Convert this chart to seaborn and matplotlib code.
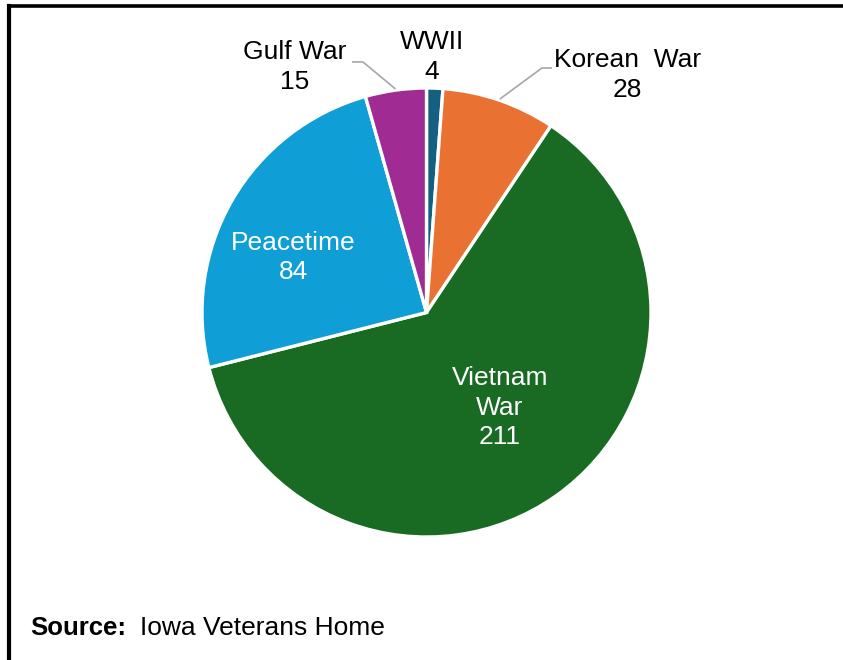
import matplotlib
matplotlib.use("Agg")
import matplotlib.pyplot as plt
from matplotlib.lines import Line2D
import numpy as np
import seaborn as sns

# Residents by era of service
eras = ["WWII", "Korean  War", "Vietnam\nWar", "Peacetime", "Gulf War"]
residents = [4, 28, 211, 84, 15]
colors = ["#156082", "#E97132", "#196B24", "#0F9ED5", "#A02B93"]

sns.set_theme(style="white")
plt.rcParams["font.family"] = ["Liberation Sans", "DejaVu Sans"]

W, H = 843, 660
fig = plt.figure(figsize=(W / 100, H / 100), dpi=100)
fig.patch.set_facecolor("white")

cx, cy, r = 426.5, 312.5, 224.5
ax = fig.add_axes([(cx - r) / W, (H - cy - r) / H, 2 * r / W, 2 * r / H])

wedges, _ = ax.pie(
    residents, colors=colors, startangle=90, counterclock=False,
    radius=1.0, wedgeprops=dict(edgecolor="white", linewidth=2.4),
)
ax.set_xlim(-1, 1)
ax.set_ylim(-1, 1)
ax.axis("off")

fs = 19
ls = 1.28
# label placement: (kind, radius/angle offset or xy, leader elbow points)
placement = {
    "WWII": ("out", (0.024, 1.138), None),
    "Korean  War": ("out", (0.895, 1.058), ((0.514, 1.089), (0.559, 1.089))),
    "Vietnam\nWar": ("in", (0.536, 2.4), None),
    "Peacetime": ("in", (0.64, 7.6), None),
    "Gulf War": ("out", (-0.586, 1.094), ((-0.283, 1.116), (-0.332, 1.116))),
}

for w, name, val in zip(wedges, eras, residents):
    mid = np.deg2rad((w.theta1 + w.theta2) / 2)
    kind, pos, leader = placement[name]
    label = f"{name}\n{val}"
    if kind == "in":
        rad, dang = pos
        ang = mid + np.deg2rad(dang)
        ax.text(rad * np.cos(ang), rad * np.sin(ang), label, ha="center",
                va="center", color="white", fontsize=fs, linespacing=ls)
    else:
        ax.text(pos[0], pos[1], label, ha="center", va="center",
                color="black", fontsize=fs, linespacing=ls, clip_on=False)
        if leader is not None:
            (ex, ey), (tx, ty) = leader
            sx, sy = 1.005 * np.cos(mid), 1.005 * np.sin(mid)
            ax.plot([sx, ex, tx], [sy, ey, ty], color="#A6A6A6", lw=1.2,
                    clip_on=False, solid_capstyle="butt")

# source note
fig.text(30 / W, 1 - 628 / H, "Source:", fontsize=18.5, fontweight="bold",
         ha="left", va="center", color="black")
fig.text(140 / W, 1 - 628 / H, "Iowa Veterans Home", fontsize=19,
         ha="left", va="center", color="black")

# outer frame
fig.add_artist(Line2D([9 / W, 9 / W], [1 - 5.5 / H, 0], transform=fig.transFigure,
                      color="black", lw=3.0, solid_capstyle="projecting"))
fig.add_artist(Line2D([9 / W, 1], [1 - 5.5 / H, 1 - 5.5 / H], transform=fig.transFigure,
                      color="black", lw=2.6, solid_capstyle="projecting"))

fig.savefig("out.png", dpi=100, facecolor="white")
